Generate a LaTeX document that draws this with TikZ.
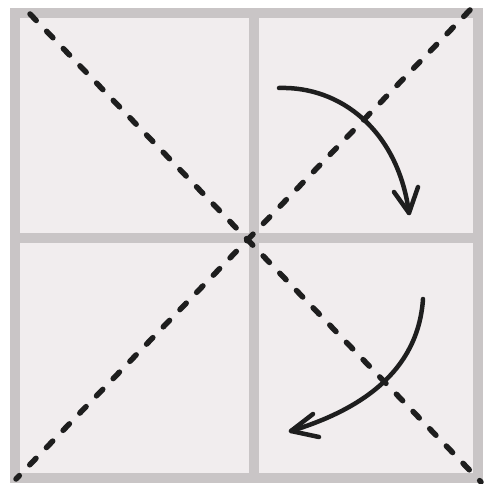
\documentclass[tikz,border=0pt]{standalone}
\usetikzlibrary{arrows.meta}
\definecolor{paper}{HTML}{F1EDEE}
\definecolor{frame}{HTML}{C9C5C6}
\definecolor{ink}{HTML}{1E1E1E}
\begin{document}
\begin{tikzpicture}[x=1pt,y=-1pt,
  gridline/.style={draw=frame,line width=10pt},
  diag/.style={draw=ink,line width=5.5pt,line cap=round,dash pattern=on 9pt off 15pt},
  curvearrow/.style={draw=ink,line width=4.5pt,line cap=round,line join=round}]
\useasboundingbox (0,0) rectangle (483,484);
\fill[white] (0,0) rectangle (483,484);
\coordinate (tl) at (15,13);
\coordinate (br) at (478,478);
\coordinate (tr) at (478,13);
\coordinate (bl) at (15,478);
\coordinate (c) at (253,242);
\fill[paper] (tl) rectangle (br);
\draw[gridline] (254,13) -- (254,478);
\draw[gridline] (15,238) -- (478,238);
\draw[gridline] (tl) rectangle (br);
% diagonals
\coordinate (d1a) at (30,14);
\coordinate (d1b) at (481,482);
\coordinate (d2a) at (470,10);
\coordinate (d2b) at (16,479);
\draw[diag] (d1a) -- (d1b);
\draw[diag] (d2a) -- (d2b);
% arrow 1
\coordinate (a1s) at (279,88);
\coordinate (a1t) at (409,213);
\draw[curvearrow] (a1s) .. controls (340,86) and (398,130) .. (a1t);
\draw[curvearrow] (394,192) -- (a1t) -- (418,187);
% arrow 2
\coordinate (a2s) at (423,299);
\coordinate (a2t) at (291,431);
\draw[curvearrow] (a2s) .. controls (418,372) and (360,410) .. (a2t);
\draw[curvearrow] (313,414) -- (a2t) -- (319,437);
\end{tikzpicture}
\end{document}
